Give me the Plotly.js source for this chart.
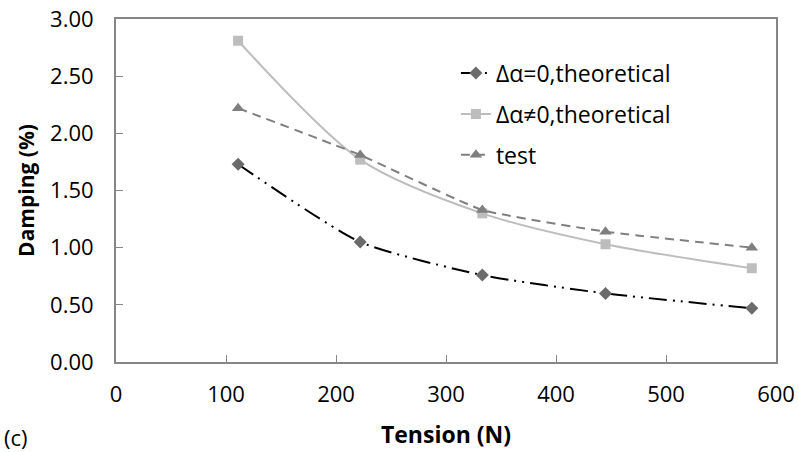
<!DOCTYPE html>
<html>
<head>
<meta charset="utf-8">
<script src="https://cdn.plot.ly/plotly-3.0.1.min.js"></script>
<style>html,body{margin:0;padding:0;background:#fff;}#chart{width:799px;height:452px;}</style>
</head>
<body>
<div id="chart"></div>
<script>
const tension = [111, 222, 333, 445, 578];
const dampZero = [1.73, 1.05, 0.76, 0.60, 0.47];
const dampNonZero = [2.81, 1.77, 1.30, 1.03, 0.82];
const dampTest = [2.22, 1.81, 1.33, 1.14, 1.00];
const seriesNames = ['Δα=0,theoretical', 'Δα≠0,theoretical', 'test'];
const xTicks = [0, 100, 200, 300, 400, 500, 600];
const yTicks = [0, 0.5, 1, 1.5, 2, 2.5, 3];

const font = "Open Sans, Liberation Sans, sans-serif";
const fs = 22;
const traces = [
  {x: tension, y: dampZero, name: seriesNames[0], mode: 'lines+markers', legendgroup: 'a',
   line: {color: '#000000', width: 2, dash: '18px,6px,2px,6px,2px,6px', shape: 'spline', smoothing: 0.6},
   marker: {symbol: 'diamond', size: 10, color: '#6b6b6b'}},
  {x: tension, y: dampNonZero, name: seriesNames[1], mode: 'lines+markers', legendgroup: 'b',
   line: {color: '#bdbdbd', width: 2, shape: 'spline', smoothing: 0.8},
   marker: {symbol: 'square', size: 10, color: '#bdbdbd'}},
  {x: tension, y: dampTest, name: seriesNames[2], mode: 'lines+markers', legendgroup: 'c',
   line: {color: '#7f7f7f', width: 2, dash: '9px,6px', shape: 'spline', smoothing: 0.4},
   marker: {symbol: 'triangle-up', size: 11, color: '#7f7f7f'}}
];
const layout = {
  width: 799, height: 452,
  margin: {l: 116, r: 23, t: 19, b: 90},
  paper_bgcolor: '#fff', plot_bgcolor: '#fff',
  font: {family: font, size: fs, color: '#000'},
  showlegend: true,
  legend: {x: 0.515, y: 0.905, xanchor: 'left', yanchor: 'top', bgcolor: 'rgba(0,0,0,0)',
           font: {family: font, size: 23, color: '#000'}, traceorder: 'grouped', tracegroupgap: 8},
  xaxis: {range: [0, 600], tickvals: xTicks, ticktext: xTicks.map(String), ticks: 'inside', ticklen: 7,
          tickcolor: '#868686', linecolor: '#868686', linewidth: 2, showline: true, mirror: true,
          showgrid: false, zeroline: false, tickfont: {family: font, size: fs}, ticklabelstandoff: 12,
          title: {text: '<b>Tension (N)</b>', font: {family: font, size: 23}, standoff: 19}},
  yaxis: {range: [0, 3], tickvals: yTicks, ticktext: yTicks.map(v => v.toFixed(2)), ticks: 'inside', ticklen: 7,
          tickcolor: '#868686', linecolor: '#868686', linewidth: 2, showline: true, mirror: true,
          showgrid: false, zeroline: false, tickfont: {family: font, size: fs}, ticklabelstandoff: 16,
          title: {text: '<b>Damping (%)</b>', font: {family: font, size: 21}, standoff: 10}},
  annotations: [{text: '(c)', xref: 'paper', yref: 'paper', x: -0.172, y: -0.218, xanchor: 'left', yanchor: 'middle',
                 showarrow: false, font: {family: font, size: fs}}]
};
Plotly.newPlot('chart', traces, layout, {displayModeBar: false, staticPlot: true});
</script>
</body>
</html>
